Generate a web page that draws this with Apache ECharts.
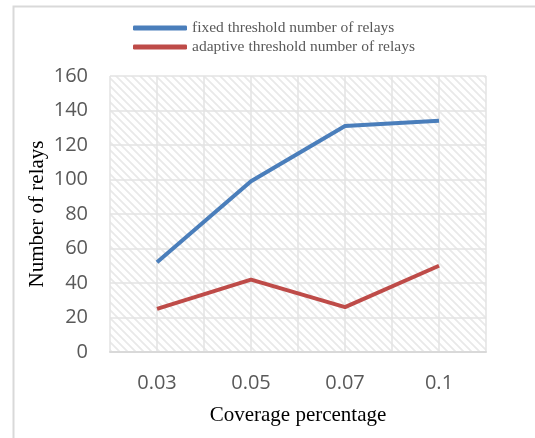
<!DOCTYPE html>
<html>
<head>
<meta charset="utf-8">
<script src="https://cdn.jsdelivr.net/npm/echarts@6/dist/echarts.min.js"></script>
<style>
  html, body { margin: 0; padding: 0; background: #fff; }
  #chart { width: 535px; height: 438px; }
</style>
</head>
<body>
<div id="chart"></div>
<script>
// data
var categories = ['0.03', '0.05', '0.07', '0.1']
var fixedRelays = [52, 99, 131, 134]
var adaptiveRelays = [25, 42, 26, 50]
var seriesNames = ['fixed threshold number of relays', 'adaptive threshold number of relays']

// diagonal hatch fill for the plot area
function hatch() {
  var c = document.createElement('canvas')
  c.width = 8
  c.height = 8
  var ctx = c.getContext('2d')
  ctx.fillStyle = '#fff'
  ctx.fillRect(0, 0, 8, 8)
  ctx.strokeStyle = '#e9e9e9'
  ctx.lineWidth = 1.8
  ctx.beginPath()
  ctx.moveTo(-2, -2); ctx.lineTo(10, 10)
  ctx.moveTo(-2, 6); ctx.lineTo(2, 10)
  ctx.moveTo(6, -2); ctx.lineTo(10, 2)
  ctx.stroke()
  return c
}

var chart = echarts.init(document.getElementById('chart'))
var tickFont = '"Open Sans", "Noto Sans", sans-serif'
var serif = '"Liberation Serif", "DejaVu Serif", serif'

chart.setOption({
  animation: false,
  graphic: [{
    type: 'rect',
    shape: { x: 13.5, y: 6.5, width: 600, height: 500 },
    style: { fill: 'none', stroke: '#d9d9d9', lineWidth: 2 },
    silent: true
  }],
  legend: {
    orient: 'vertical',
    left: 128,
    top: 15,
    itemWidth: 54,
    itemHeight: 5,
    itemGap: 3,
    icon: 'roundRect',
    textStyle: { fontFamily: serif, fontSize: 15.5, color: '#595959' },
    data: seriesNames
  },
  grid: {
    left: 110,
    right: 49,
    top: 76,
    bottom: 86,
    show: true,
    borderWidth: 0,
    backgroundColor: { image: hatch(), repeat: 'repeat' }
  },
  xAxis: [{
    type: 'category',
    data: categories,
    boundaryGap: true,
    name: 'Coverage percentage',
    nameLocation: 'middle',
    nameGap: 53,
    nameMoveOverlap: false,
    nameTextStyle: { fontFamily: serif, fontSize: 21, color: '#000' },
    axisLine: { show: true, lineStyle: { color: '#d9d9d9', width: 2 } },
    axisTick: { show: false },
    axisLabel: { fontFamily: tickFont, fontSize: 20, color: '#595959', margin: 21 },
    splitLine: { show: false }
  }, {
    // helper axis for the grid lines at every half category
    type: 'value',
    min: 0,
    max: 8,
    interval: 1,
    position: 'top',
    axisLine: { show: false },
    axisTick: { show: false },
    axisLabel: { show: false },
    splitLine: { show: true, lineStyle: { color: '#e3e3e3', width: 1.5 } }
  }],
  yAxis: {
    type: 'value',
    min: 0,
    max: 160,
    interval: 20,
    name: 'Number of relays',
    nameLocation: 'middle',
    nameGap: 62,
    nameMoveOverlap: false,
    nameTextStyle: { fontFamily: serif, fontSize: 21, color: '#000' },
    axisLine: { show: false },
    axisTick: { show: false },
    axisLabel: { fontFamily: tickFont, fontSize: 20, color: '#595959', margin: 22 },
    splitLine: { show: true, lineStyle: { color: '#e3e3e3', width: 1.5 } }
  },
  series: [{
    name: seriesNames[0],
    type: 'line',
    xAxisIndex: 0,
    data: fixedRelays,
    symbol: 'none',
    color: '#4a7ebb',
    lineStyle: { width: 4, color: '#4a7ebb' }
  }, {
    name: seriesNames[1],
    type: 'line',
    xAxisIndex: 0,
    data: adaptiveRelays,
    symbol: 'none',
    color: '#be4b48',
    lineStyle: { width: 4, color: '#be4b48' }
  }]
})
</script>
</body>
</html>
